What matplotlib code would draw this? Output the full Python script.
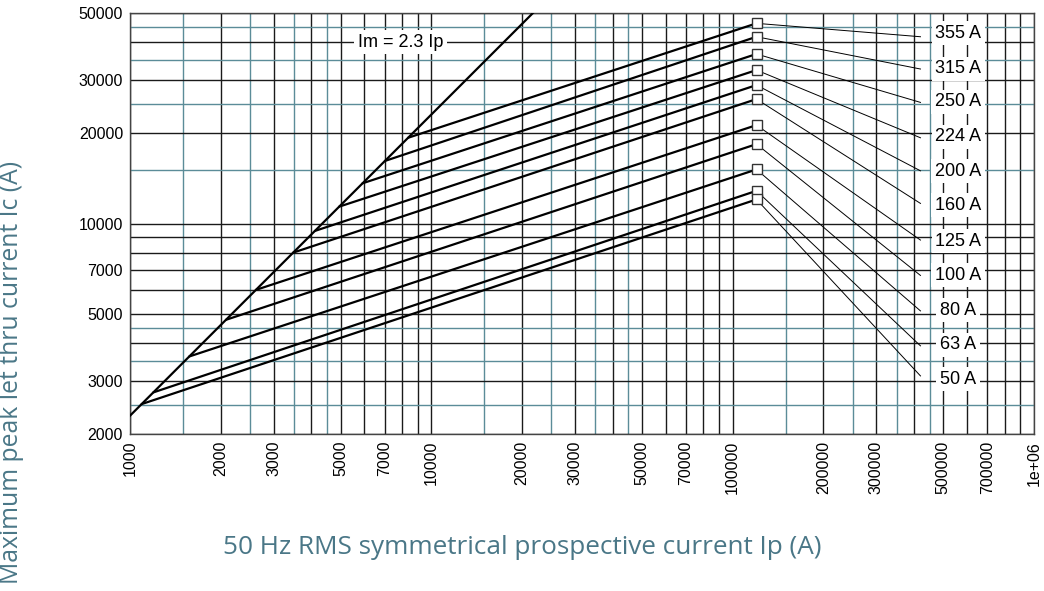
import matplotlib
matplotlib.use("Agg")
import matplotlib.pyplot as plt
import numpy as np

# ---- data ----
ratings = ["355 A", "315 A", "250 A", "224 A", "200 A", "160 A",
           "125 A", "100 A", "80 A", "63 A", "50 A"]
# prospective current where each curve leaves the Im = 2.3 Ip line
start_ip = [8375, 7013, 5913, 4946, 4108, 3480, 2617, 2082, 1573, 1195, 1093]
# end point of each curve (Ip = 120 kA)
end_ip = 120000
end_ic = [46200, 41700, 36550, 32320, 28820, 25890, 21220, 18350, 15120, 12840, 12020]
# leader line end points and label positions
leader_x = 420000
leader_y = [41700, 32580, 25240, 19260, 14960, 11660, 8810, 6722, 5126, 3924, 3118]
label_x = 560000
label_y = [42800, 32650, 25370, 19410, 14930, 11510, 8739, 6740, 5154, 3955, 3041]

asym_factor = 2.3
asym_ip = [1000, 30000]

xlim = (1000, 1e6)
ylim = (2000, 50000)
x_major = [m * 10 ** e for e in (3, 4, 5) for m in range(1, 10)] + [1e6]
x_minor = [m * 10 ** e for e in (3, 4, 5) for m in (1.5, 2.5, 3.5, 4.5)]
x_labels_shown = [1000, 2000, 3000, 5000, 7000, 10000, 20000, 30000, 50000,
                  70000, 100000, 200000, 300000, 500000, 700000, 1e6]
y_major = [2000, 3000, 4000, 5000, 6000, 7000, 8000, 9000, 10000,
           20000, 30000, 40000, 50000]
y_minor = [2500, 3500, 4500, 15000, 25000, 35000, 45000]
y_labels_shown = [2000, 3000, 5000, 7000, 10000, 20000, 30000, 50000]

xlabel = "50 Hz RMS symmetrical prospective current Ip (A)"
ylabel = "Maximum peak let thru current Ic (A)"

# ---- figure ----
fig = plt.figure(figsize=(10.44, 5.91), dpi=100)
ax = fig.add_axes([130 / 1044, 1 - 434 / 591, 904 / 1044, 421 / 591])
ax.set_xscale("log")
ax.set_yscale("log")
ax.set_xlim(*xlim)
ax.set_ylim(*ylim)

def fmt(v):
    if v >= 1e6:
        return "1e+06"
    return str(int(v))

ax.set_xticks(x_major)
ax.set_xticklabels([fmt(v) if v in x_labels_shown else "" for v in x_major],
                   rotation=90, fontsize=11.5, family="Liberation Sans")
ax.set_xticks(x_minor, minor=True)
ax.set_xticklabels([], minor=True)
ax.set_yticks(y_major)
ax.set_yticklabels([fmt(v) if v in y_labels_shown else "" for v in y_major],
                   fontsize=11.5, family="Liberation Sans")
ax.set_yticks(y_minor, minor=True)
ax.set_yticklabels([], minor=True)
ax.tick_params(which="both", length=0, pad=5)

teal = "#5b8c98"
ax.grid(which="major", color="#1a1a1a", linewidth=1.0)
ax.grid(which="minor", color=teal, linewidth=1.0)
for s in ax.spines.values():
    s.set_color("#444444")
    s.set_linewidth(1.0)

# asymptote Im = 2.3 Ip
ax.plot(asym_ip, [asym_factor * v for v in asym_ip], color="black", lw=1.6, zorder=3)
ax.text(7900, 40000, "Im = 2.3 Ip", fontsize=13, family="Liberation Sans",
        ha="center", va="center", zorder=4,
        bbox=dict(boxstyle="square,pad=0.2", fc="white", ec="none"))

for i, name in enumerate(ratings):
    ax.plot([start_ip[i], end_ip], [asym_factor * start_ip[i], end_ic[i]],
            color="black", lw=1.6, zorder=3, solid_capstyle="round")
    ax.plot([end_ip, leader_x], [end_ic[i], leader_y[i]], color="black", lw=0.7, zorder=3)
    ax.plot([end_ip], [end_ic[i]], marker="s", ms=6.5, mfc="white", mec="#333333",
            mew=1.0, zorder=5, ls="none")
    ax.text(label_x, label_y[i], name, fontsize=13, family="Liberation Sans",
            ha="center", va="center", zorder=4,
            bbox=dict(boxstyle="square,pad=0.2", fc="white", ec="none"))

title_color = "#4a7787"
fig.text(522 / 1044, 1 - 547 / 591, xlabel, ha="center", va="center",
         fontsize=18.8, color=title_color, family="Open Sans")
fig.text(12 / 1044, 1 - 372 / 591, ylabel, ha="center", va="center",
         rotation=90, fontsize=17.8, color=title_color, family="Open Sans")

fig.savefig("out.png", dpi=100)
